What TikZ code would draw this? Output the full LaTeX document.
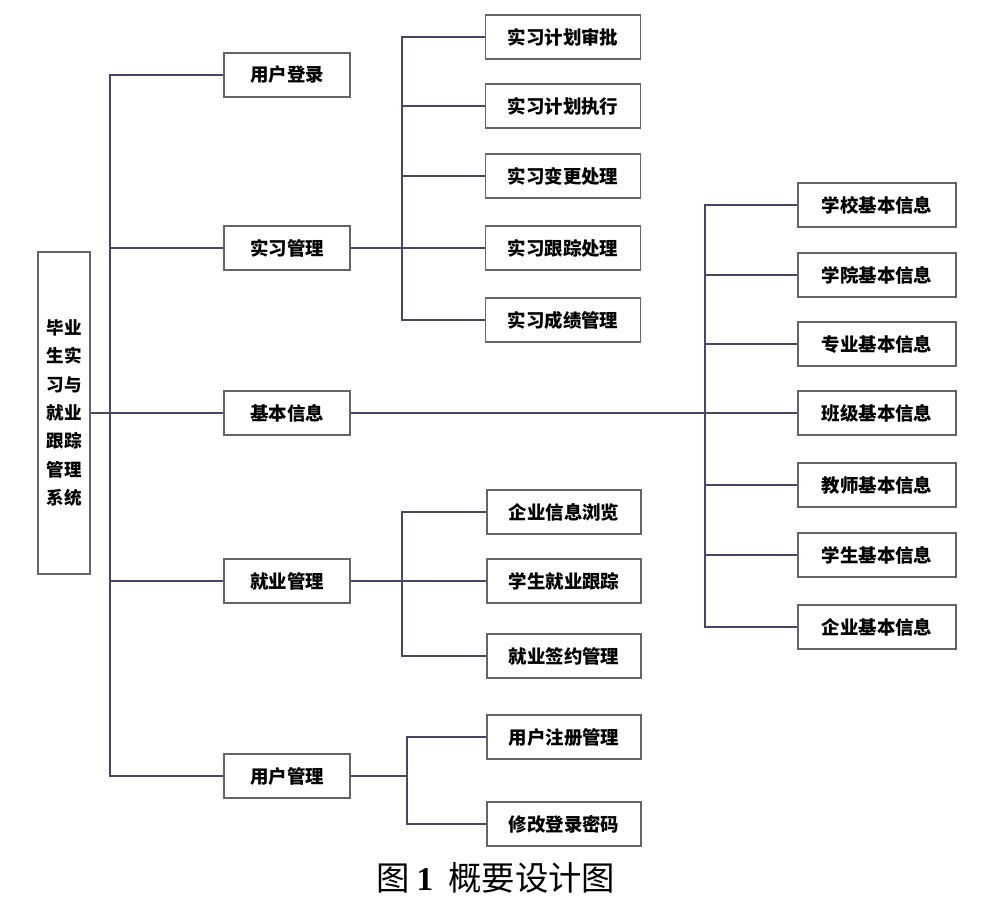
\documentclass[tikz,border=0pt]{standalone}
\usepackage{fontspec}
\newfontfamily\cjk{Noto Sans CJK SC}
\newfontfamily\capnum{Liberation Serif}
\usepackage{tikz}

\definecolor{boxline}{RGB}{100,100,100}
\definecolor{linkline}{RGB}{70,70,105}

\begin{document}
\begin{tikzpicture}[x=0.02cm, y=-0.02cm,
		box/.style={rectangle, draw=boxline, line width=0.8pt, minimum height=0.88cm, inner sep=0pt, font=\cjk\bfseries\fontsize{10.5}{12}\selectfont},
		mid/.style={box, minimum width=2.52cm},
		leaf/.style={box, minimum width=3.08cm},
		link/.style={draw=linkline, line width=0.65pt}]
				\useasboundingbox (0,0) rectangle (1000,906);
				
				\node[box, minimum width=1.04cm, minimum height=6.44cm, align=center, font=\cjk\bfseries\fontsize{10}{16.2}\selectfont] (root) at (64,413){毕业\\生实\\习与\\就业\\跟踪\\管理\\系统};
				
				\node[mid] (login) at (287,75){用户登录};
				\node[mid] (intern) at (287,248){实习管理};
				\node[mid] (info) at (287,413){基本信息};
				\node[mid] (job) at (287,581){就业管理};
				\node[mid] (user) at (287,776){用户管理};
				
				\node[leaf, minimum width=3.1cm] (i1) at (563,37){实习计划审批};
				\node[leaf, minimum width=3.1cm] (i2) at (563,106){实习计划执行};
				\node[leaf, minimum width=3.1cm] (i3) at (563,176){实习变更处理};
				\node[leaf, minimum width=3.1cm] (i4) at (563,248){实习跟踪处理};
				\node[leaf, minimum width=3.1cm] (i5) at (563,320){实习成绩管理};
				
				\node[leaf, minimum width=3.16cm] (b1) at (877,205){学校基本信息};
				\node[leaf, minimum width=3.16cm] (b2) at (877,275){学院基本信息};
				\node[leaf, minimum width=3.16cm] (b3) at (877,344){专业基本信息};
				\node[leaf, minimum width=3.16cm] (b4) at (877,413){班级基本信息};
				\node[leaf, minimum width=3.16cm] (b5) at (877,485){教师基本信息};
				\node[leaf, minimum width=3.16cm] (b6) at (877,555){学生基本信息};
				\node[leaf, minimum width=3.16cm] (b7) at (877,627){企业基本信息};
				
				\node[leaf] (j1) at (564,512){企业信息浏览};
				\node[leaf] (j2) at (564,581){学生就业跟踪};
				\node[leaf] (j3) at (564,656){就业签约管理};
				
				\node[leaf] (u1) at (564,737){用户注册管理};
				\node[leaf] (u2) at (564,824){修改登录密码};
				
				\node[draw=none, font=\cjk\fontsize{19}{22}\selectfont] (cap) at (496,878){图\hspace{0.2em}{\capnum\bfseries 1}\hspace{0.45em}概要设计图};
				
				% branch points
				\coordinate (trunk) at (110,413);
				\coordinate (is) at (402,248);
				\coordinate (bs) at (705,413);
				\coordinate (js) at (402,581);
				\coordinate (us) at (407,776);
				
				\path[link] (root) -- (trunk);
				\path[link] (trunk) |- (login);
				\path[link] (trunk) |- (intern);
				\path[link] (trunk) -- (info);
				\path[link] (trunk) |- (job);
				\path[link] (trunk) |- (user);
				
				\path[link] (intern) -- (is);
				\path[link] (is) |- (i1);
				\path[link] (is) |- (i2);
				\path[link] (is) |- (i3);
				\path[link] (is) -- (i4);
				\path[link] (is) |- (i5);
				
				\path[link] (info) -- (bs);
				\path[link] (bs) |- (b1);
				\path[link] (bs) |- (b2);
				\path[link] (bs) |- (b3);
				\path[link] (bs) |- (b4);
				\path[link] (bs) |- (b5);
				\path[link] (bs) |- (b6);
				\path[link] (bs) |- (b7);
				
				\path[link] (job) -- (js);
				\path[link] (js) |- (j1);
				\path[link] (js) -- (j2);
				\path[link] (js) |- (j3);
				
				\path[link] (user) -- (us);
				\path[link] (us) |- (u1);
				\path[link] (us) |- (u2);
				\end{tikzpicture}
\end{document}
